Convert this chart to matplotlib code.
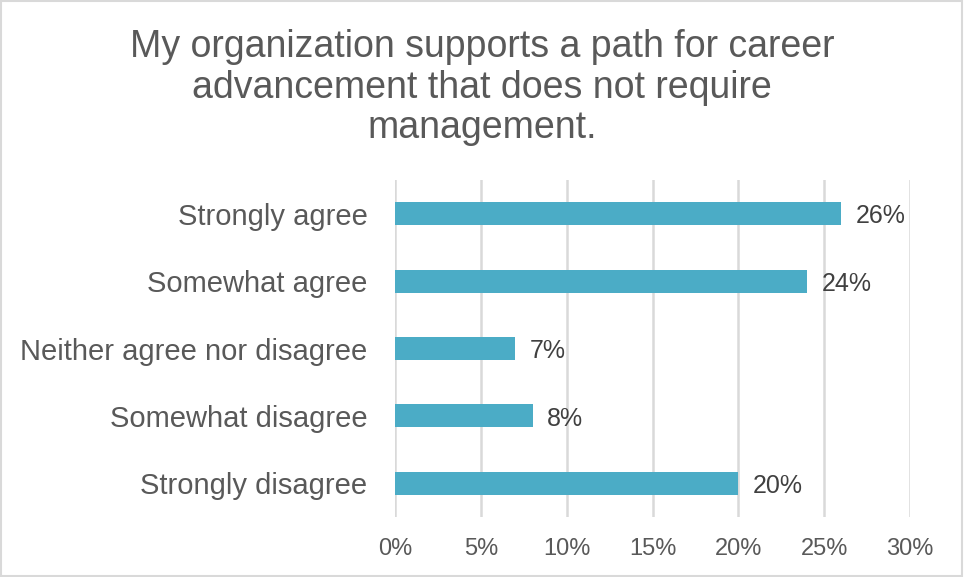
import matplotlib
matplotlib.use("Agg")
import matplotlib.pyplot as plt
from matplotlib.ticker import FuncFormatter
from matplotlib.patches import Rectangle

# survey answers, top to bottom
categories = ["Strongly agree", "Somewhat agree", "Neither agree nor disagree",
              "Somewhat disagree", "Strongly disagree"]
values = [26, 24, 7, 8, 20]
xticks = [0, 5, 10, 15, 20, 25, 30]
title = "My organization supports a path for career\nadvancement that does not require\nmanagement."

plt.rcParams["font.family"] = ["Liberation Sans", "DejaVu Sans"]

fig = plt.figure(figsize=(9.64, 5.77), dpi=100)
ax = fig.add_axes([0.41, 0.104, 0.534, 0.584])

ypos = list(range(len(categories)))[::-1]
ax.barh(ypos, values, height=0.34, color="#4BACC6", zorder=3)

for y, v in zip(ypos, values):
    ax.text(v + 0.85, y - 0.04, f"{v}%", va="center", ha="left", fontsize=18, color="#404040")

ax.set_xlim(0, 30)
ax.set_ylim(-0.5, 4.5)
ax.set_xticks(xticks)
ax.xaxis.set_major_formatter(FuncFormatter(lambda v, p: f"{v:.0f}%"))
ax.set_yticks(ypos)
ax.set_yticklabels(categories)
ax.tick_params(axis="x", length=0, pad=15, labelsize=17, labelcolor="#595959")
ax.tick_params(axis="y", length=0, pad=20, labelsize=21, labelcolor="#595959")

ax.grid(axis="x", color="#D9D9D9", linewidth=1.8, zorder=0)
for s in ax.spines.values():
    s.set_visible(False)

fig.text(0.5, 0.95, title, ha="center", va="top", fontsize=27,
         color="#595959", linespacing=1.17)

# thin frame around the whole chart
fig.patches.append(Rectangle((0.001, 0.002), 0.997, 0.996, transform=fig.transFigure,
                             fill=False, edgecolor="#D9D9D9", linewidth=1.5))

fig.savefig("out.png", dpi=100)
